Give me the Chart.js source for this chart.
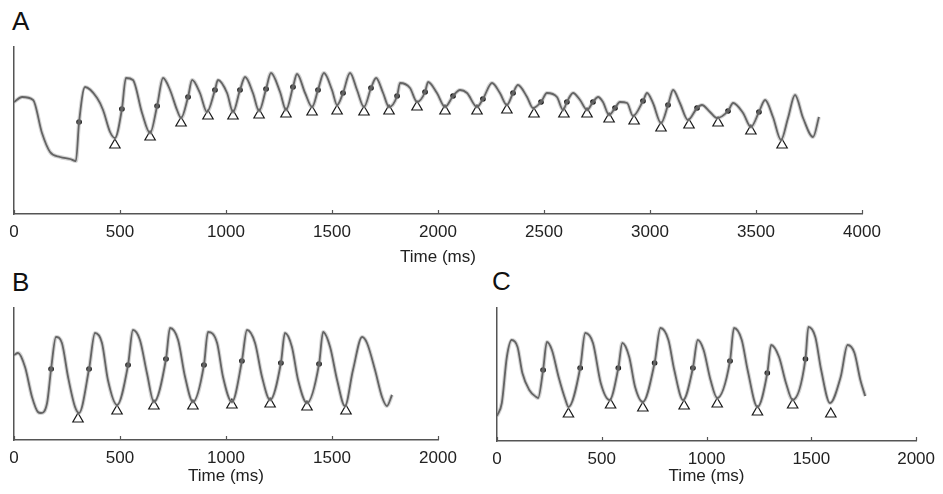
<!DOCTYPE html>
<html>
<head>
<meta charset="utf-8">
<script src="https://cdn.jsdelivr.net/npm/chart.js@4.4.0/dist/chart.umd.min.js"></script>
<style>
  body { margin: 0; background: #fff; }
  #wrap { position: relative; width: 943px; height: 494px; overflow: hidden; }
  canvas { position: absolute; }
  .panel-label { position: absolute; font: 26px "Liberation Sans", Arial, sans-serif; line-height: 1; color: #111; }
</style>
</head>
<body>
<div id="wrap">
  <div class="panel-label" style="left:12px;top:8px">A</div>
  <div class="panel-label" style="left:12px;top:269px">B</div>
  <div class="panel-label" style="left:492px;top:268px">C</div>
  <canvas id="chart-a" width="943" height="270" style="left:0;top:0"></canvas>
  <canvas id="chart-b" width="470" height="225" style="left:0;top:265px"></canvas>
  <canvas id="chart-c" width="463" height="225" style="left:480px;top:265px"></canvas>
</div>
<script>
// Panel A: long recording (ms / arbitrary units)
const aTime = [
  0, 38, 90, 132, 170, 217, 264, 292, 307, 335, 392, 420, 453, 476,
  509, 528, 561, 604, 642,
  675, 703, 736, 769, 788,
  821, 840, 877, 910,
  948, 962, 1005, 1033,
  1066, 1090, 1127, 1156,
  1189, 1212, 1255, 1283,
  1316, 1335, 1373, 1406,
  1434, 1462, 1500, 1524,
  1552, 1585, 1618, 1651,
  1684, 1708, 1741, 1769,
  1807, 1821, 1868, 1901,
  1939, 1953, 1995, 2033,
  2071, 2104, 2137, 2184,
  2212, 2255, 2292, 2325,
  2354, 2377, 2420, 2448,
  2486, 2514, 2561, 2590,
  2608, 2637, 2670, 2703,
  2731, 2755, 2778, 2807,
  2835, 2858, 2892, 2920,
  2967, 2986, 3014, 3052,
  3085, 3109, 3141, 3179,
  3222, 3245, 3283, 3316,
  3368, 3392, 3439, 3476,
  3514, 3543, 3580, 3618,
  3651, 3684, 3722, 3769, 3797
];
const aSignal = [
  112, 117, 114, 81, 62, 57, 55, 53, 92, 127, 116, 104, 82, 76,
  105, 136, 134, 101, 81,
  108, 136, 124, 104, 96,
  117, 134, 121, 102,
  124, 134, 121, 102,
  124, 137, 121, 103,
  125, 141, 122, 104,
  127, 140, 121, 107,
  124, 141, 124, 109,
  121, 141, 124, 107,
  126, 136, 121, 107,
  118, 131, 126, 112,
  122, 132, 121, 107,
  118, 124, 121, 107,
  115, 131, 121, 109,
  121, 129, 117, 106,
  112, 121, 117, 104,
  112, 121, 114, 104,
  112, 117, 112, 99,
  106, 112, 111, 98,
  113, 121, 111, 91,
  109, 124, 111, 94,
  106, 109, 102, 96,
  103, 111, 101, 87,
  102, 114, 97, 74,
  96, 119, 96, 77, 97
];
const aDotTime = [307, 509, 675, 821, 948, 1066, 1189, 1316, 1434, 1552, 1684, 1807, 1939, 2071, 2212, 2354, 2486, 2608, 2731, 2835, 2967, 3085, 3222, 3368, 3514];
const aDotValue = [92, 105, 108, 117, 124, 124, 125, 127, 124, 121, 126, 118, 122, 118, 115, 121, 112, 112, 112, 106, 113, 109, 106, 103, 102];
const aTriTime = [476, 642, 788, 915, 1033, 1156, 1283, 1406, 1524, 1651, 1769, 1901, 2033, 2184, 2325, 2453, 2594, 2703, 2807, 2925, 3052, 3184, 3321, 3476, 3623];
const aTriValue = [69, 77, 91, 98, 98, 99, 100, 102, 103, 102, 103, 107, 103, 103, 104, 100, 100, 100, 95, 93, 86, 89, 91, 83, 69];
const aTicks = [0, 500, 1000, 1500, 2000, 2500, 3000, 3500, 4000];

// Panel B
const bTime = [
  0, 19, 52, 85, 113, 127, 156,
  175, 198, 226, 255, 288, 307,
  354, 382, 415, 443, 486,
  538, 561, 594, 627, 660,
  717, 736, 774, 807, 844,
  896, 915, 958, 986, 1028,
  1075, 1099, 1137, 1170, 1208,
  1259, 1278, 1311, 1340, 1382,
  1439, 1458, 1491, 1524, 1561,
  1599, 1642, 1665, 1703, 1736, 1759, 1783
];
const bSignal = [
  85, 87, 73, 43, 28, 27, 37,
  71, 103, 97, 63, 33, 27,
  71, 107, 97, 60, 35,
  75, 110, 100, 67, 38,
  81, 112, 100, 63, 38,
  75, 108, 97, 63, 38,
  79, 110, 97, 63, 40,
  77, 107, 93, 60, 37,
  76, 108, 93, 60, 34,
  70, 103, 97, 70, 43, 34, 45
];
const bDotTime = [175, 354, 538, 717, 896, 1075, 1259, 1439];
const bDotValue = [71, 71, 75, 81, 75, 79, 77, 76];
const bTriTime = [302, 486, 660, 844, 1028, 1208, 1382, 1566];
const bTriValue = [21, 29, 34, 34, 35, 36, 33, 29];
const bTicks = [0, 500, 1000, 1500, 2000];

// Panel C
const cTime = [
  0, 23, 47, 70, 98, 121, 154, 187, 196,
  220, 238, 262, 294, 327, 341,
  397, 421, 458, 495, 537,
  579, 598, 631, 659, 696,
  752, 780, 818, 846, 888,
  935, 958, 986, 1019, 1051,
  1112, 1131, 1168, 1196, 1243,
  1290, 1308, 1346, 1379, 1411,
  1472, 1486, 1519, 1547, 1589,
  1640, 1673, 1706, 1734, 1757
];
const cSignal = [
  25, 38, 84, 101, 94, 68, 51, 44, 43,
  71, 99, 91, 64, 41, 34,
  73, 108, 98, 58, 41,
  73, 98, 84, 54, 39,
  78, 113, 101, 71, 41,
  73, 101, 91, 61, 43,
  80, 113, 101, 71, 34,
  68, 96, 84, 58, 41,
  82, 114, 104, 71, 38,
  64, 96, 88, 61, 45
];
const cDotTime = [220, 397, 579, 752, 935, 1112, 1290, 1472];
const cDotValue = [71, 73, 73, 78, 73, 80, 68, 82];
const cTriTime = [341, 542, 696, 893, 1051, 1243, 1411, 1593];
const cTriValue = [27, 36, 33, 35, 37, 29, 36, 27];
const cTicks = [0, 500, 1000, 1500, 2000];

const fontFamily = '"Liberation Sans", Arial, sans-serif';
const axisColor = '#555';

function toPoints(xs, ys) {
    return xs.map((x, i) => ({ x: x, y: ys[i] }));
}

// MATLAB-style ticks pointing into the plot
const inwardTicks = {
    id: 'inwardTicks',
    afterDraw(chart) {
        const scale = chart.scales.x;
        const ctx = chart.ctx;
        const bottom = chart.chartArea.bottom;
        ctx.save();
        ctx.strokeStyle = axisColor;
        ctx.lineWidth = 1.2;
        scale.ticks.forEach(t => {
            const px = Math.round(scale.getPixelForValue(t.value)) + 0.5;
            ctx.beginPath();
            ctx.moveTo(px, bottom);
            ctx.lineTo(px, bottom - 4);
            ctx.stroke();
        });
        ctx.restore();
    }
};

function makePanel(id, cfg) {
    const trace = toPoints(cfg.time, cfg.signal);
    return new Chart(document.getElementById(id), {
        type: 'line',
        data: {
            datasets: [
                {
                    // light grey raw trace underneath
                    data: trace,
                    borderColor: 'rgba(170, 170, 170, 0.5)',
                    borderWidth: 4,
                    pointRadius: 0,
                    cubicInterpolationMode: 'monotone'
                },
                {
                    data: trace,
                    borderColor: '#1e1e1e',
                    borderWidth: 1.8,
                    pointRadius: 0,
                    cubicInterpolationMode: 'monotone'
                },
                {
                    data: toPoints(cfg.dotTime, cfg.dotValue),
                    showLine: false,
                    pointRadius: 2.8,
                    pointBorderWidth: 0,
                    pointBackgroundColor: '#000'
                },
                {
                    data: toPoints(cfg.triTime, cfg.triValue),
                    showLine: false,
                    pointStyle: 'triangle',
                    pointRadius: 6,
                    pointBorderWidth: 1.2,
                    pointBorderColor: '#1a1a1a',
                    pointBackgroundColor: 'rgba(0, 0, 0, 0)'
                }
            ]
        },
        options: {
            responsive: false,
            animation: false,
            events: [],
            layout: {
                autoPadding: false,
                padding: { left: cfg.padLeft, right: cfg.padRight, top: cfg.padTop, bottom: 0 }
            },
            plugins: {
                legend: { display: false },
                tooltip: { enabled: false }
            },
            scales: {
                x: {
                    type: 'linear',
                    min: cfg.ticks[0],
                    max: cfg.ticks[cfg.ticks.length - 1],
                    afterBuildTicks: scale => {
                        scale.ticks = cfg.ticks.map(v => ({ value: v }));
                    },
                    afterFit: scale => {
                        scale.height = cfg.axisHeight;
                    },
                    grid: { display: false, drawTicks: false },
                    border: { display: true, color: axisColor, width: 1.5 },
                    ticks: {
                        padding: 8,
                        autoSkip: false,
                        maxRotation: 0,
                        color: '#222',
                        font: { family: fontFamily, size: 17 },
                        callback: v => String(v)
                    },
                    title: {
                        display: true,
                        text: 'Time (ms)',
                        color: '#222',
                        font: { family: fontFamily, size: 17, lineHeight: 1.2 },
                        padding: { top: 0, bottom: cfg.titlePad }
                    }
                },
                y: {
                    min: 0,
                    max: cfg.yMax,
                    afterFit: scale => {
                        scale.width = 0;
                    },
                    grid: { display: false, drawTicks: false },
                    border: { display: true, color: axisColor, width: 1.5 },
                    ticks: { display: false }
                }
            }
        },
        plugins: [inwardTicks]
    });
}

makePanel('chart-a', {
    time: aTime, signal: aSignal,
    dotTime: aDotTime, dotValue: aDotValue,
    triTime: aTriTime, triValue: aTriValue,
    ticks: aTicks, yMax: 167,
    padLeft: 14, padRight: 81, padTop: 47,
    axisHeight: 56, titlePad: 2
});

makePanel('chart-b', {
    time: bTime, signal: bSignal,
    dotTime: bDotTime, dotValue: bDotValue,
    triTime: bTriTime, triValue: bTriValue,
    ticks: bTicks, yMax: 132,
    padLeft: 14, padRight: 32, padTop: 43,
    axisHeight: 50, titlePad: 3
});

makePanel('chart-c', {
    time: cTime, signal: cSignal,
    dotTime: cDotTime, dotValue: cDotValue,
    triTime: cTriTime, triValue: cTriValue,
    ticks: cTicks, yMax: 133,
    padLeft: 17, padRight: 18, padTop: 43,
    axisHeight: 49, titlePad: 3
});
</script>
</body>
</html>
